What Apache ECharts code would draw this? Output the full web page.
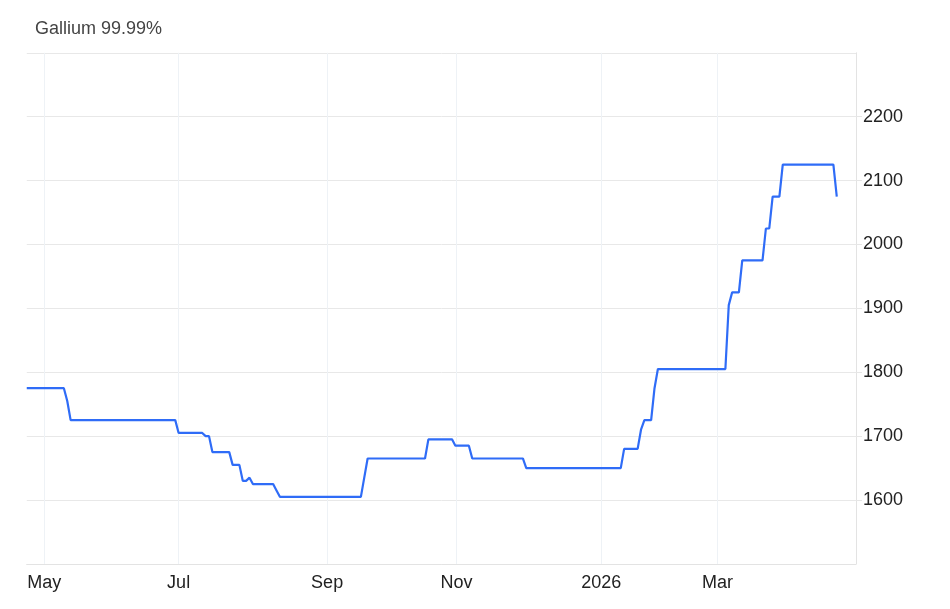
<!DOCTYPE html>
<html><head><meta charset="utf-8">
<script src="https://cdn.jsdelivr.net/npm/echarts@6/dist/echarts.min.js"></script>
<style>html,body{margin:0;padding:0;background:#fff}#c{width:950px;height:609px}</style>
</head><body><div id="c"></div>
<script>
// ---- data ----
const chartTitle = 'Gallium 99.99%';

// price change points (date, CNY/kg)
const changeDates = [
  '2025-04-23','2025-05-13','2025-05-14','2025-05-15','2025-06-30','2025-07-01',
  '2025-07-10','2025-07-11','2025-07-14','2025-07-15','2025-07-22','2025-07-23',
  '2025-07-25','2025-07-28','2025-07-29','2025-07-30','2025-07-31','2025-08-08',
  '2025-08-11','2025-08-12','2025-09-15','2025-09-16','2025-09-17','2025-10-20',
  '2025-10-21','2025-10-30','2025-10-31','2025-11-06','2025-11-07','2025-11-28',
  '2025-12-01','2026-01-12','2026-01-13','2026-01-19','2026-01-20','2026-01-21',
  '2026-01-23','2026-01-26','2026-01-27','2026-03-04','2026-03-05','2026-03-06',
  '2026-03-10','2026-03-11','2026-03-19','2026-03-20','2026-03-23','2026-03-24',
  '2026-03-26','2026-03-27','2026-04-20','2026-04-21'
];
const changeValues = [
  1775,1775,1755,1725,1725,1705,
  1705,1700,1700,1675,1675,1655,
  1655,1630,1630,1635,1625,1625,
  1615,1605,1605,1635,1665,1665,
  1695,1695,1685,1685,1665,1665,
  1650,1650,1680,1680,1710,1725,
  1725,1775,1805,1805,1905,1925,
  1925,1975,1975,2025,2025,2075,
  2075,2125,2125,2075
];

// x axis month ticks
const monthTickDates = ['2025-05-01','2025-07-01','2025-09-01','2025-11-01','2026-01-01','2026-03-01'];
const monthTickLabels = ['May','Jul','Sep','Nov','2026','Mar'];

// y axis
const yMin = 1500, yMax = 2300, yStep = 100;

// trading calendar (weekends + exchange holidays are skipped on the ordinal axis)
const calendarStart = '2025-04-23';
const calendarEnd = '2026-04-30';
const holidays = [
  '2025-05-01','2025-05-02','2025-05-05','2025-06-02',
  '2025-10-01','2025-10-02','2025-10-03','2025-10-06','2025-10-07','2025-10-08',
  '2026-01-01','2026-01-02',
  '2026-02-16','2026-02-17','2026-02-18','2026-02-19','2026-02-20','2026-02-23',
  '2026-04-06'
];
const xAxisEnd = 245.7; // ordinal position of the right plot edge

// ---- ordinal (trading-day) axis helper ----
const DAY = 86400000;
function toMs(s){ const p = s.split('-').map(Number); return Date.UTC(p[0], p[1]-1, p[2]); }
const holSet = new Set(holidays.map(toMs));
const tradingDays = [];
for (let t = toMs(calendarStart); t <= toMs(calendarEnd); t += DAY) {
  const wd = new Date(t).getUTCDay();
  if (wd === 0 || wd === 6 || holSet.has(t)) continue;
  tradingDays.push(t);
}
function ordinal(s){
  const t = toMs(s);
  for (let i = 0; i < tradingDays.length; i++) {
    if (tradingDays[i] === t) return i;
    if (tradingDays[i] > t) {
      if (i === 0) return 0;
      const p = tradingDays[i-1];
      return i - 1 + (t - p) / (tradingDays[i] - p);
    }
  }
  return tradingDays.length - 1;
}

const seriesData = changeDates.map((d, i) => [ordinal(d), changeValues[i]]);
const tickPos = monthTickDates.map(ordinal);
const FONT = '"Liberation Sans", Arial, Helvetica, sans-serif';

const chart = echarts.init(document.getElementById('c'), null, {renderer: 'canvas'});
chart.setOption({
  animation: false,
  backgroundColor: '#ffffff',
  title: {
    text: chartTitle,
    left: 35, top: 20, padding: 0,
    textStyle: {fontFamily: FONT, fontSize: 18, fontWeight: 'normal', color: '#444444'}
  },
  grid: {left: 26.75, right: 94, top: 52.8, bottom: 45.1, containLabel: false},
  xAxis: {
    type: 'value',
    min: 0, max: xAxisEnd,
    axisLine: {show: true, onZero: false, lineStyle: {color: '#e3e3e3', width: 1}},
    axisTick: {show: false, customValues: tickPos},
    splitLine: {show: false},
    axisLabel: {
      customValues: tickPos,
      margin: 10,
      fontFamily: FONT,
      fontSize: 18, color: '#222222',
      formatter: function (v) {
        let best = 0, bd = Infinity;
        tickPos.forEach((p, i) => { const d = Math.abs(p - v); if (d < bd) { bd = d; best = i; } });
        return monthTickLabels[best];
      }
    }
  },
  yAxis: {
    type: 'value',
    position: 'right',
    min: yMin, max: yMax, interval: yStep,
    axisLine: {show: true, onZero: false, lineStyle: {color: '#e3e3e3', width: 1}},
    axisTick: {show: true, length: 6, lineStyle: {color: '#e6e6e6'}},
    splitLine: {show: true, lineStyle: {color: '#e8e8e8', width: 1}},
    axisLabel: {
      showMinLabel: false, showMaxLabel: false,
      margin: 7,
      fontFamily: FONT,
      fontSize: 18, color: '#222222',
      formatter: function (v) { return String(v); }
    }
  },
  series: [{
    type: 'line',
    data: seriesData,
    showSymbol: false,
    symbol: 'none',
    lineStyle: {color: '#2f6cf7', width: 2.2},
    itemStyle: {color: '#2f6cf7'},
    z: 3,
    markLine: {
      silent: true,
      symbol: ['none', 'none'],
      label: {show: false},
      lineStyle: {color: '#eef2f6', width: 1, type: 'solid'},
      z: 1,
      data: tickPos.map(p => ({xAxis: p}))
    }
  }]
});
</script>
</body></html>
